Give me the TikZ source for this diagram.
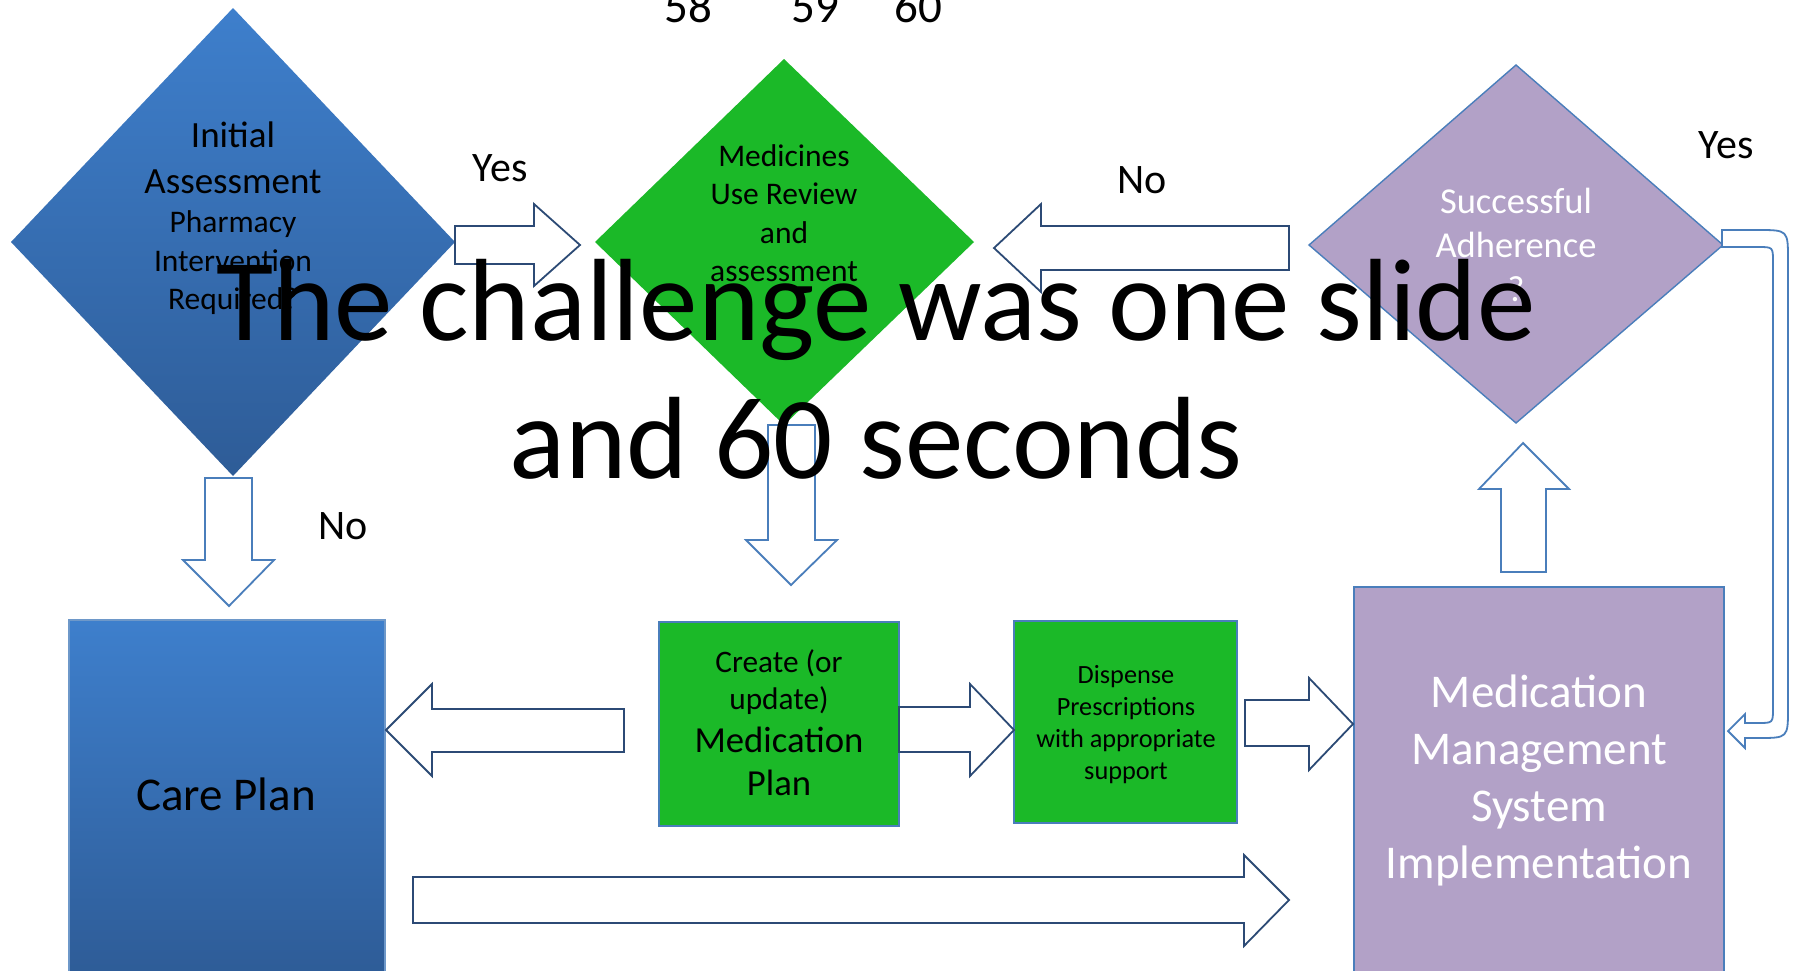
\documentclass[tikz,border=0pt]{standalone}
\usepackage{fontspec}
\setmainfont{Carlito}
\definecolor{navy}{HTML}{2C4A75}
\definecolor{midblue}{HTML}{4A7EBB}
\definecolor{dgreen}{HTML}{1BB928}
\definecolor{lpurple}{HTML}{B2A1C7}
\definecolor{btop}{HTML}{3E7FCC}
\definecolor{bbot}{HTML}{2E5C97}
\newcommand\mylines[1]{\begin{tabular}[t]{@{}c@{}}#1\end{tabular}}
\tikzset{
  navyarrow/.style={draw=navy, line width=1.8pt, fill=white, line join=miter},
  bluearrow/.style={draw=midblue, line width=1.8pt, fill=white, line join=miter},
  txt/.style={anchor=base, inner sep=0pt},
  lbl/.style={txt, font=\fontsize{42}{50}\selectfont},
  greenfill/.style={fill=dgreen, draw=midblue, line width=1.4pt},
  purplefill/.style={fill=lpurple, draw=midblue, line width=1.4pt},
}
\begin{document}
\begin{tikzpicture}[x=1pt,y=-1pt]
\useasboundingbox (0,0) rectangle (1793,970);
\fill[white] (0,0) rectangle (1793,970);

% shapes
\shade[top color=btop, bottom color=bbot] (233,8) -- (455,242) -- (233,476) -- (11,242) -- cycle;
\fill[dgreen] (784,59) -- (974,242) -- (784,425) -- (595,242) -- cycle;
\path[purplefill] (1516,65) -- (1723,245) -- (1516,423) -- (1309,245) -- cycle;
\shade[top color=btop, bottom color=bbot, draw=midblue!80, line width=1.2pt] (69,620) rectangle (385,975);
\path[greenfill] (659,622) rectangle (899,826);
\path[greenfill] (1014,621) rectangle (1237,823);
\path[purplefill] (1354,587) rectangle (1724,975);

% block arrows
\path[navyarrow] (455,226) -- (534,226) -- (534,204) -- (580,245) -- (534,286) -- (534,264) -- (455,264) -- cycle;
\path[navyarrow] (1289,226) -- (1041,226) -- (1041,204) -- (994,248) -- (1041,292) -- (1041,270) -- (1289,270) -- cycle;
\path[bluearrow] (205,478) -- (252,478) -- (252,560) -- (274,560) -- (229,606) -- (183,560) -- (205,560) -- cycle;
\path[bluearrow] (768,425) -- (815,425) -- (815,540) -- (837,540) -- (791,585) -- (746,540) -- (768,540) -- cycle;
\path[bluearrow] (1501,572) -- (1546,572) -- (1546,489) -- (1569,489) -- (1523,443) -- (1479,489) -- (1501,489) -- cycle;
\path[navyarrow] (624,709) -- (432,709) -- (432,684) -- (386,730) -- (432,776) -- (432,752) -- (624,752) -- cycle;
\path[navyarrow] (899,707) -- (970,707) -- (970,684) -- (1014,730) -- (970,776) -- (970,752) -- (899,752) -- cycle;
\path[navyarrow] (1245,700) -- (1309,700) -- (1309,678) -- (1353,724) -- (1309,770) -- (1309,746) -- (1245,746) -- cycle;
\path[navyarrow] (413,877) -- (1244,877) -- (1244,855) -- (1289,900) -- (1244,946) -- (1244,923) -- (413,923) -- cycle;
\path[bluearrow] (1722,230) -- (1758,230) .. controls (1788,230) .. (1788,260) -- (1788,708)
  .. controls (1788,738) .. (1758,738) -- (1745,738) -- (1745,748) -- (1728,731) -- (1745,714)
  -- (1745,723) -- (1758,723) .. controls (1773,723) .. (1773,708) -- (1773,262)
  .. controls (1773,247) .. (1758,247) -- (1722,247) -- cycle;

% texts
\node[txt, font=\fontsize{37}{46}\selectfont] (ia) at (233,147)
  {\mylines{Initial\\Assessment\\[-7pt]{\fontsize{31.5}{38}\selectfont Pharmacy}\\[-7pt]{\fontsize{31.5}{38}\selectfont Intervention}\\[-8pt]{\fontsize{31.5}{38}\selectfont Required?}}};
\node[txt, font=\fontsize{31.5}{38.5}\selectfont] (mur) at (784,166)
  {\mylines{Medicines\\Use Review\\and\\assessment}};
\node[txt, font=\fontsize{36.5}{44}\selectfont, text=white] (sa) at (1516,213)
  {\mylines{Successful\\Adherence\\?}};
\node[txt, font=\fontsize{47}{57}\selectfont] (cp) at (226,810) {Care Plan};
\node[txt, font=\fontsize{31.3}{37}\selectfont] (cm) at (779,672)
  {\mylines{Create (or\\update)\\[6pt]{\fontsize{36.7}{44}\selectfont Medication}\\[6pt]{\fontsize{36.7}{44}\selectfont Plan}}};
\node[txt, font=\fontsize{26.3}{32}\selectfont] (dp) at (1126,683)
  {\mylines{Dispense\\Prescriptions\\with appropriate\\support}};
\node[txt, font=\fontsize{47}{57}\selectfont, text=white] (mms) at (1539,707)
  {\mylines{Medication\\Management\\System\\Implementation}};

% labels
\node[lbl] (yes1) at (500,181) {Yes};
\node[lbl] (no1) at (1142,193) {No};
\node[lbl] (yes2) at (1726,158) {Yes};
\node[lbl] (no2) at (343,539) {No};
\node[txt, font=\fontsize{47}{56}\selectfont] (n58) at (688,22) {58};
\node[txt, font=\fontsize{47}{56}\selectfont] (n59) at (815,22) {59};
\node[txt, font=\fontsize{47}{56}\selectfont] (n60) at (918,22) {60};

% title
\node[txt, font=\fontsize{117}{138}\selectfont] (title) at (876,340)
  {\mylines{The challenge was one slide\\and 60 seconds}};
\end{tikzpicture}
\end{document}
